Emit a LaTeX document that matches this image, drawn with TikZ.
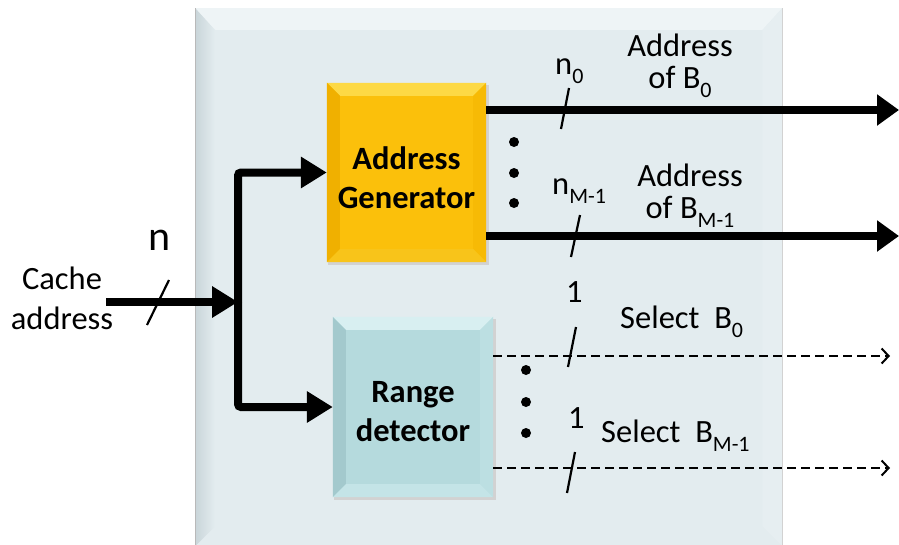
\documentclass[tikz,border=0pt]{standalone}
\usepackage{fontspec}
\setmainfont{Carlito}
\usetikzlibrary{arrows.meta,calc}
\definecolor{panelc}{HTML}{E3ECEF}
\definecolor{paneltop}{HTML}{EEF4F6}
\definecolor{panelleft}{HTML}{C9D5D9}
\definecolor{panelright}{HTML}{E6EEF1}
\definecolor{agc}{HTML}{FBC00B}
\definecolor{agtop}{HTML}{FDD945}
\definecolor{agleft}{HTML}{F0B000}
\definecolor{agright}{HTML}{F7BA05}
\definecolor{agbot}{HTML}{F8C41A}
\definecolor{rdc}{HTML}{B5DADD}
\definecolor{rdtop}{HTML}{D8EFF1}
\definecolor{rdleft}{HTML}{A3C9CD}
\definecolor{rdright}{HTML}{BCDFE2}
\definecolor{rdbot}{HTML}{C4E4E7}
\newcommand{\mysub}[1]{\raisebox{-0.28em}{\fontsize{22}{22}\selectfont #1}}
\newcommand{\mybevel}[6]{%
  \fill[#3] (#1.north west) -- (#1.north east) -- ($(#1.north east)+(-#2,#2)$) -- ($(#1.north west)+(#2,#2)$) -- cycle;
  \fill[#4] (#1.north west) -- ($(#1.north west)+(#2,#2)$) -- ($(#1.south west)+(#2,-#2)$) -- (#1.south west) -- cycle;
  \fill[#5] (#1.north east) -- ($(#1.north east)+(-#2,#2)$) -- ($(#1.south east)+(-#2,-#2)$) -- (#1.south east) -- cycle;
  \fill[#6] (#1.south west) -- ($(#1.south west)+(#2,-#2)$) -- ($(#1.south east)+(-#2,-#2)$) -- (#1.south east) -- cycle;
}
\begin{document}
\begin{tikzpicture}[x=1pt,y=-1pt,
  lbl/.style={inner sep=0pt,font=\fontsize{32.5}{32}\selectfont},
  boxtext/.style={inner sep=0pt,align=center,font=\fontsize{32.5}{39}\selectfont\bfseries},
  bus/.style={line width=8pt,-{Triangle[length=26pt,width=30pt]}},
  outbus/.style={line width=8pt,-{Triangle[length=22pt,width=30pt]}},
  sigline/.style={line width=2pt,dash pattern=on 9pt off 5pt,-{Straight Barb[length=7pt,width=15pt,line width=2pt]}},
  slashline/.style={line width=2.2pt},
]
\useasboundingbox (0,0) rectangle (899,544);
\fill[white] (0,0) rectangle (899,544);
% panel
\node[anchor=north west,inner sep=0pt,minimum width=587pt,minimum height=538pt,fill=panelc] (panel) at (195,8) {};
\fill[paneltop] (panel.north west) -- (panel.north east) -- ($(panel.north east)+(-20,22)$) -- ($(panel.north west)+(20,22)$) -- cycle;
\shade[left color=panelleft,right color=panelc] (panel.north west) -- ($(panel.north west)+(20,22)$) -- ($(panel.south west)+(20,-20)$) -- (panel.south west) -- cycle;
\fill[panelright] (panel.north east) -- ($(panel.north east)+(-20,22)$) -- ($(panel.south east)+(-20,-20)$) -- (panel.south east) -- cycle;
\fill[panelc] ($(panel.north west)+(20,22)$) rectangle ($(panel.south east)+(-20,-20)$);
\draw[gray!55,line width=1pt] (panel.north west) -- (panel.south west);
\draw[gray!35,line width=0.8pt] (panel.north east) -- (panel.south east);
% boxes
\fill[gray!35] (328,85) rectangle (489,265);
\node[minimum width=159pt,minimum height=179pt,inner sep=0pt,fill=agc] (ag) at (406.5,172.5) {};
\mybevel{ag}{13}{agtop}{agleft}{agright}{agbot}
\node[boxtext] (agt) at (406.5,178) {Address\\Generator};
\fill[gray!35] (334,319) rectangle (496,500);
\node[minimum width=160pt,minimum height=180pt,inner sep=0pt,fill=rdc] (rd) at (413,407) {};
\mybevel{rd}{13}{rdtop}{rdleft}{rdright}{rdbot}
\node[boxtext] (rdt) at (413,412) {Range\\detector};
% input
\coordinate (src) at (106,302);
\coordinate (jn) at (238,302);
\draw[bus] (src) -- (jn);
\draw[bus,rounded corners=3pt] (jn) |- (ag.west);
\draw[bus,rounded corners=3pt] (jn) |- (rd.west);
\draw[slashline] (147,325) -- (169,280);
\node[inner sep=0pt,font=\fontsize{42}{42}\selectfont] (nlbl) at (160,240) {n};
\node[inner sep=0pt,align=center,font=\fontsize{32.5}{40}\selectfont] (cache) at (62,298) {Cache\\address};
% outputs
\coordinate (o1) at (899,110);
\coordinate (o2) at (899,236);
\draw[outbus] (ag.east |- o1) -- (o1);
\draw[outbus] (ag.east |- o2) -- (o2);
\draw[slashline] (561,129) -- (569,88);
\draw[slashline] (571,257) -- (580,215);
\node[lbl,anchor=base west] (n0) at (555,74) {n\mysub{0}};
\node[lbl,align=center] (ab0) at (680,66) {Address\\of B\mysub{0}};
\node[lbl,anchor=base west] (nm) at (552,194) {n\mysub{M-1}};
\node[lbl,align=center] (abm) at (690,196) {Address\\of B\mysub{M-1}};
\foreach \yy in {142,173,203} \fill (514,\yy) circle (5pt);
% select lines
\coordinate (s1) at (890,356);
\coordinate (s2) at (890,468);
\draw[sigline] (rd.east |- s1) -- (s1);
\draw[sigline] (rd.east |- s2) -- (s2);
\draw[slashline] (568,367) -- (576,327);
\draw[slashline] (567,493) -- (575,452);
\node[lbl,anchor=base west] (one1) at (566,302) {1};
\node[lbl,anchor=base west] (sel0) at (620,328) {Select~~B\mysub{0}};
\node[lbl,anchor=base west] (one2) at (568,428) {1};
\node[lbl,anchor=base west] (selm) at (601,442) {Select~~B\mysub{M-1}};
\foreach \yy in {370,402,433} \fill (526,\yy) circle (5pt);
\end{tikzpicture}
\end{document}
